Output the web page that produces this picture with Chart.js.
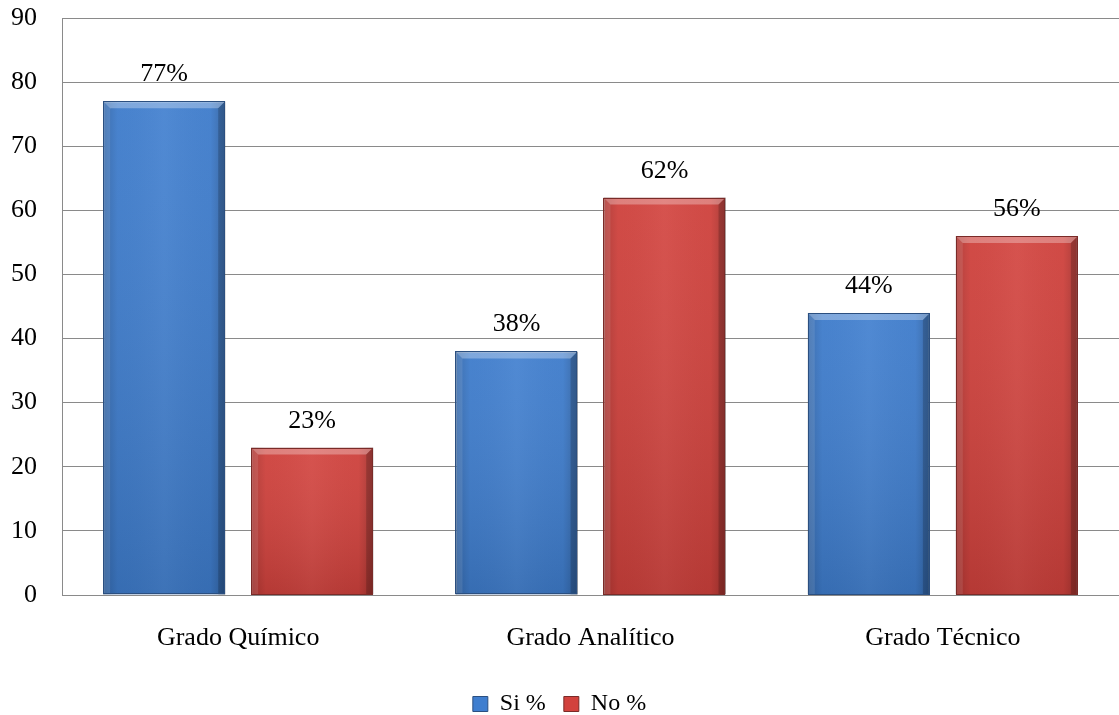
<!DOCTYPE html>
<html>
<head>
<meta charset="utf-8">
<script src="https://cdn.jsdelivr.net/npm/chart.js@4.4.0/dist/chart.umd.min.js"></script>
<style>
  html, body { margin: 0; padding: 0; background: #fff; }
</style>
</head>
<body>
<canvas id="myChart" width="1119" height="715"></canvas>
<script>
// survey answers per grade, in percent
const categories = ["Grado Químico", "Grado Analítico", "Grado Técnico"];
const si_values = [77, 38, 44];
const no_values = [23, 62, 56];
const y_min = 0;
const y_max = 90;
const y_step = 10;

const FONT = "'Liberation Serif', 'Times New Roman', serif";

// bevel look on every bar: side shading, lit top edge, darker bottom
const bevel = {
  id: "bevel",
  afterDatasetsDraw(chart) {
    const ctx = chart.ctx;
    chart.data.datasets.forEach((ds, i) => {
      chart.getDatasetMeta(i).data.forEach((bar) => {
        const p = bar.getProps(["x", "y", "base", "width"], true);
        const left = p.x - p.width / 2;
        const right = p.x + p.width / 2;
        const top = Math.min(p.y, p.base);
        const bottom = Math.max(p.y, p.base);
        const b = 7;
        ctx.save();

        // horizontal shading
        let g = ctx.createLinearGradient(left, 0, right, 0);
        g.addColorStop(0, "rgba(0,0,0,0.18)");
        g.addColorStop(0.12, "rgba(0,0,0,0.02)");
        g.addColorStop(0.5, "rgba(255,255,255,0.04)");
        g.addColorStop(0.88, "rgba(0,0,0,0.02)");
        g.addColorStop(1, "rgba(0,0,0,0.22)");
        ctx.fillStyle = g;
        ctx.fillRect(left, top, right - left, bottom - top);

        // vertical shading
        g = ctx.createLinearGradient(0, top, 0, bottom);
        g.addColorStop(0, "rgba(255,255,255,0.05)");
        g.addColorStop(1, "rgba(0,0,0,0.12)");
        ctx.fillStyle = g;
        ctx.fillRect(left, top, right - left, bottom - top);

        // top bevel
        ctx.beginPath();
        ctx.moveTo(left, top);
        ctx.lineTo(right, top);
        ctx.lineTo(right - b, top + b);
        ctx.lineTo(left + b, top + b);
        ctx.closePath();
        ctx.fillStyle = "rgba(255,255,255,0.30)";
        ctx.fill();

        // left bevel
        ctx.beginPath();
        ctx.moveTo(left, top);
        ctx.lineTo(left + b, top + b);
        ctx.lineTo(left + b, bottom);
        ctx.lineTo(left, bottom);
        ctx.closePath();
        ctx.fillStyle = "rgba(255,255,255,0.10)";
        ctx.fill();

        // right bevel
        ctx.beginPath();
        ctx.moveTo(right, top);
        ctx.lineTo(right - b, top + b);
        ctx.lineTo(right - b, bottom);
        ctx.lineTo(right, bottom);
        ctx.closePath();
        ctx.fillStyle = "rgba(0,0,0,0.18)";
        ctx.fill();

        // outline again on top of the shading
        ctx.strokeStyle = ds.borderColor;
        ctx.lineWidth = 1;
        ctx.strokeRect(Math.round(left) + 0.5, Math.round(top) + 0.5,
          Math.round(right - left) - 1, Math.round(bottom - top) - 1);
        ctx.restore();
      });
    });
  }
};

// percentage text above each bar
const valueLabels = {
  id: "valueLabels",
  afterDatasetsDraw(chart) {
    const ctx = chart.ctx;
    ctx.save();
    ctx.font = "26px " + FONT;
    ctx.fillStyle = "#000";
    ctx.textAlign = "center";
    ctx.textBaseline = "alphabetic";
    chart.data.datasets.forEach((ds, i) => {
      chart.getDatasetMeta(i).data.forEach((bar, j) => {
        ctx.fillText(Math.round(ds.data[j]) + "%", bar.x, bar.y - 20);
      });
    });
    ctx.restore();
  }
};

const ctx = document.getElementById("myChart").getContext("2d");
const myChart = new Chart(ctx, {
  type: "bar",
  data: {
    labels: categories,
    datasets: [
      {
        label: "Si %",
        data: si_values,
        backgroundColor: "#3f7ecf",
        borderColor: "#2b4f80",
        borderWidth: 1,
      },
      {
        label: "No %",
        data: no_values,
        backgroundColor: "#d2423d",
        borderColor: "#7a2b28",
        borderWidth: 1,
      },
    ],
  },
  options: {
    responsive: false,
    animation: false,
    categoryPercentage: 0.84,
    barPercentage: 0.825,
    layout: {
      padding: { top: 18, right: 0, left: 0, bottom: -11 },
    },
    plugins: {
      tooltip: { enabled: false },
      legend: {
        position: "bottom",
        labels: {
          color: "#000",
          font: { family: FONT, size: 24 },
          boxWidth: 15,
          boxHeight: 15,
          padding: 18,
        },
      },
    },
    scales: {
      y: {
        min: y_min,
        max: y_max,
        ticks: {
          stepSize: y_step,
          color: "#000",
          padding: 25,
          font: { family: FONT, size: 26 },
        },
        grid: {
          color: "#8a8a8a",
          lineWidth: 1,
          drawTicks: false,
        },
        border: { display: true, color: "#8a8a8a" },
        afterFit(scale) {
          scale.width = 62;
          scale.paddingTop = 0;
          scale.paddingBottom = 0;
        },
      },
      x: {
        ticks: {
          color: "#000",
          padding: 28,
          font: { family: FONT, size: 26 },
        },
        grid: { display: false, drawTicks: false },
        border: { display: true, color: "#8a8a8a" },
        afterFit(scale) {
          scale.height = 79;
        },
      },
    },
  },
  plugins: [bevel, valueLabels],
});
</script>
</body>
</html>
